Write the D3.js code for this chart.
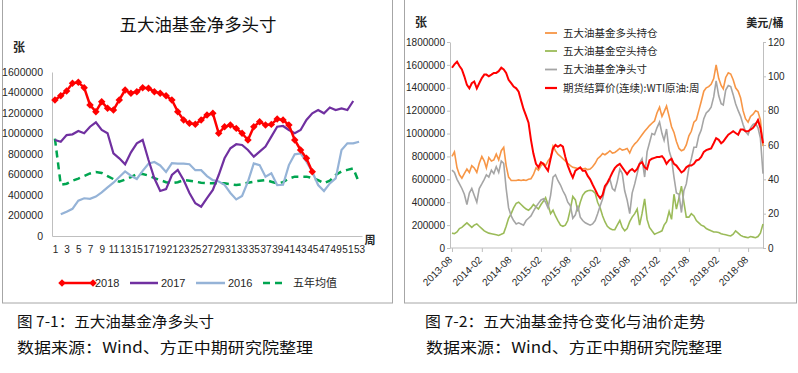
<!DOCTYPE html>
<html><head><meta charset="utf-8">
<script src="https://cdn.jsdelivr.net/npm/d3@7"></script>
<style>
html,body{margin:0;padding:0;background:#fff;}
svg{display:block;}
</style></head>
<body>
<svg id="c" width="798" height="373"></svg>
<script>
// ================= Chart 1 data (weekly) =================
const weeks = [1,2,3,4,5,6,7,8,9,10,11,12,13,14,15,16,17,18,19,20,21,22,23,24,25,26,27,28,29,30,31,32,33,34,35,36,37,38,39,40,41,42,43,44,45,46,47,48,49,50,51,52,53];
const weekTicks = [1,3,5,7,9,11,13,15,17,19,21,23,25,27,29,31,33,35,37,39,41,43,45,47,49,51,53];
const yTicks1 = [0,200000,400000,600000,800000,1000000,1200000,1400000,1600000];
const seriesNames1 = ["2018","2017","2016","五年均值"];
const v2018 = [1327000,1369000,1415000,1490000,1500000,1447000,1278000,1213000,1310000,1246000,
  1229000,1327000,1424000,1392000,1408000,1447000,1441000,1408000,1392000,1369000,
  1327000,1213000,1132000,1099000,1090000,1132000,1180000,1197000,1002000,1066000,
  1083000,1050000,1002000,937000,1066000,1115000,1083000,1089000,1141000,1132000,
  1083000,937000,839000,758000,627000];
const v2017 = [937000,920000,985000,992000,1024000,1002000,1066000,1109000,1034000,1002000,
  807000,758000,699000,816000,904000,937000,741000,563000,439000,458000,
  595000,644000,546000,420000,320000,286000,370000,449000,595000,758000,
  856000,895000,888000,839000,774000,823000,872000,969000,1066000,1073000,
  1034000,1002000,1034000,1132000,1197000,1229000,1197000,1253000,1229000,1245000,
  1229000,1317000];
const v2016 = [null,211000,237000,265000,345000,368000,362000,385000,425000,475000,
  520000,575000,630000,588000,556000,635000,705000,722000,688000,625000,
  710000,706000,706000,700000,642000,642000,585000,545000,532000,500000,
  420000,357000,390000,530000,708000,692000,578000,611000,497000,500000,
  692000,797000,806000,725000,627000,497000,439000,513000,562000,839000,
  904000,904000,920000];
const vAvg5 = [950000,500000,510000,540000,560000,585000,610000,625000,615000,585000,
  555000,530000,550000,575000,605000,605000,590000,565000,545000,525000,
  515000,525000,545000,540000,530000,520000,515000,514000,514000,514000,
  505000,497000,505000,520000,530000,540000,546000,530000,514000,525000,
  560000,579000,579000,579000,565000,546000,514000,540000,595000,630000,
  645000,660000,520000];

// ================= Chart 2 data (semi-monthly) =================
const dates2 = [
 "2013-08-01","2013-08-16","2013-09-01","2013-09-16","2013-10-01","2013-10-16","2013-11-01","2013-11-16","2013-12-01","2013-12-16",
 "2014-01-01","2014-01-16","2014-02-01","2014-02-16","2014-03-01","2014-03-16","2014-04-01","2014-04-16","2014-05-01","2014-05-16",
 "2014-06-01","2014-06-16","2014-07-01","2014-07-16","2014-08-01","2014-08-16","2014-09-01","2014-09-16","2014-10-01","2014-10-16",
 "2014-11-01","2014-11-16","2014-12-01","2014-12-16","2015-01-01","2015-01-16","2015-02-01","2015-02-16","2015-03-01","2015-03-16",
 "2015-04-01","2015-04-16","2015-05-01","2015-05-16","2015-06-01","2015-06-16","2015-07-01","2015-07-16","2015-08-01","2015-08-16",
 "2015-09-01","2015-09-16","2015-10-01","2015-10-16","2015-11-01","2015-11-16","2015-12-01","2015-12-16","2016-01-01","2016-01-16",
 "2016-02-01","2016-02-16","2016-03-01","2016-03-16","2016-04-01","2016-04-16","2016-05-01","2016-05-16","2016-06-01","2016-06-16",
 "2016-07-01","2016-07-16","2016-08-01","2016-08-16","2016-09-01","2016-09-16","2016-10-01","2016-10-16","2016-11-01","2016-11-16",
 "2016-12-01","2016-12-16","2017-01-01","2017-01-16","2017-02-01","2017-02-16","2017-03-01","2017-03-16","2017-04-01","2017-04-16",
 "2017-05-01","2017-05-16","2017-06-01","2017-06-16","2017-07-01","2017-07-16","2017-08-01","2017-08-16","2017-09-01","2017-09-16",
 "2017-10-01","2017-10-16","2017-11-01","2017-11-16","2017-12-01","2017-12-16","2018-01-01","2018-01-16","2018-02-01","2018-02-16",
 "2018-03-01","2018-03-16","2018-04-01","2018-04-16","2018-05-01","2018-05-16","2018-06-01","2018-06-16","2018-07-01","2018-07-16",
 "2018-08-01","2018-08-16","2018-09-01","2018-09-16","2018-10-01","2018-10-16","2018-11-01"];
const longPos = [800000,840000,700000,640000,610000,650000,690000,660000,720000,700000,
  660000,740000,800000,760000,700000,790000,760000,770000,820000,770000,
  850000,880000,720000,620000,590000,590000,590000,595000,590000,595000,
  590000,600000,605000,640000,700000,680000,720000,740000,720000,760000,
  790000,890000,850000,820000,800000,780000,760000,740000,720000,705000,
  700000,695000,700000,690000,695000,685000,690000,710000,740000,780000,
  800000,825000,815000,830000,850000,830000,835000,850000,870000,855000,
  860000,870000,830000,880000,910000,930000,960000,990000,1020000,1045000,
  1070000,1090000,1110000,1180000,1230000,1150000,1190000,1240000,1150000,1060000,
  1010000,930000,870000,850000,860000,900000,980000,1020000,1100000,1120000,
  1200000,1280000,1370000,1400000,1410000,1430000,1480000,1600000,1480000,1420000,
  1390000,1490000,1530000,1520000,1470000,1400000,1370000,1310000,1200000,1130000,
  1100000,1150000,1170000,1200000,1190000,1120000,890000];
const shortPos = [130000,125000,140000,170000,180000,200000,220000,200000,180000,200000,
  210000,190000,170000,150000,140000,130000,125000,120000,115000,110000,
  120000,130000,190000,260000,300000,350000,390000,400000,380000,360000,
  340000,330000,350000,380000,360000,340000,380000,410000,440000,380000,
  300000,330000,280000,240000,200000,190000,200000,240000,340000,450000,
  420000,320000,400000,460000,490000,500000,505000,500000,480000,400000,
  350000,280000,230000,190000,170000,160000,160000,200000,240000,180000,
  150000,170000,230000,270000,300000,340000,200000,300000,430000,250000,
  180000,150000,120000,130000,140000,150000,200000,230000,320000,250000,
  470000,340000,440000,540000,400000,270000,270000,300000,280000,240000,
  220000,200000,190000,170000,160000,150000,140000,140000,135000,125000,
  120000,115000,110000,105000,120000,150000,130000,110000,100000,95000,
  90000,100000,95000,90000,100000,130000,210000];
const netPos = [680000,660000,600000,560000,520000,470000,380000,480000,520000,460000,
  400000,520000,560000,600000,640000,620000,680000,650000,710000,660000,
  760000,740000,520000,350000,280000,240000,210000,220000,210000,200000,
  240000,260000,280000,320000,360000,390000,420000,430000,400000,350000,
  460000,620000,640000,590000,550000,500000,460000,400000,370000,260000,
  290000,370000,270000,240000,220000,210000,200000,210000,240000,300000,
  370000,430000,520000,560000,600000,520000,500000,580000,690000,650000,
  500000,420000,300000,480000,560000,650000,740000,780000,620000,840000,
  920000,1000000,990000,1050000,1100000,1000000,940000,1040000,850000,780000,
  620000,480000,470000,310000,500000,560000,700000,780000,880000,880000,
  980000,1030000,1130000,1180000,1200000,1230000,1320000,1460000,1330000,1260000,
  1250000,1380000,1420000,1410000,1340000,1260000,1200000,1150000,1080000,1020000,
  990000,1050000,1080000,1090000,1050000,960000,650000];
const wtiPrice = [105,107,108.5,106,104,100,95,93,96,97,
  93,96,99,101,101,100,101,102,102,103,
  105,104,102,98,96,94,93,91,86,81,
  77,73,63,55,49,47,50,49,47,45,
  52,58,60,59,60,59,53,48,44,41,
  45,46,47,45,45,42,40,37,34,31,
  29,31,36,38,41,44,46.5,48,49,47,
  45,43,45,46,44.5,46,49,50,47,46,
  51,52,52.5,53,53,53.5,52,49,51,52,
  49,48,46,44,45,47,48,48,49,51,
  51.5,53,56,57,57.5,58,61,64,63,61,
  62,64,66,67,68,67,66,69,69,68,
  68,69,70,72,74.5,70,61];
const yTicksL = [0,200000,400000,600000,800000,1000000,1200000,1400000,1600000,1800000];
const yTicksR = [0,20,40,60,80,100,120];
const xTickLabels2 = ["2013-08","2014-02","2014-08","2015-02","2015-08","2016-02","2016-08","2017-02","2017-08","2018-02","2018-08"];
const seriesNames2 = ["五大油基金多头持仓","五大油基金空头持仓","五大油基金净头寸","期货结算价(连续):WTI原油:周"];

// ================= drawing =================
const svg = d3.select("#c");
const NUM = "'Liberation Sans', Arial, sans-serif";
const CJK = "'Noto Sans CJK SC', 'Noto Sans', sans-serif";
const AXIS_C = "#BFBFBF";
const TXT_C = "#262626";

// frames
svg.append("rect").attr("x",2.5).attr("y",-3).attr("width",390).attr("height",306)
  .attr("fill","none").attr("stroke","#A6A6A6");
svg.append("rect").attr("x",404.5).attr("y",-3).attr("width",392).attr("height",306)
  .attr("fill","none").attr("stroke","#A6A6A6");

// ---------- chart 1 ----------
const g1 = svg.append("g");
const x1 = d3.scalePoint().domain(weeks).range([52,362]).padding(0.5);
const y1 = d3.scaleLinear().domain([0,1600000]).range([236,72]);

g1.append("text").attr("x",198).attr("y",25).attr("dy","0.35em").attr("text-anchor","middle")
  .attr("font-family",CJK).attr("font-size",17).attr("fill","#111")
  .attr("textLength",157).attr("lengthAdjust","spacingAndGlyphs").text("五大油基金净多头寸");
g1.append("text").attr("x",19).attr("y",48).attr("dy","0.35em").attr("text-anchor","middle")
  .attr("font-family",CJK).attr("font-weight","bold").attr("font-size",12).attr("fill",TXT_C).text("张");
g1.append("text").attr("x",370).attr("y",240).attr("dy","0.35em").attr("text-anchor","middle")
  .attr("font-family",CJK).attr("font-weight","bold").attr("font-size",11).attr("fill",TXT_C).text("周");

const ax1y = g1.append("g").attr("transform","translate(52,0)")
  .call(d3.axisLeft(y1).tickValues(yTicks1).tickSize(0).tickPadding(9).tickFormat(d3.format("d")));
const ax1x = g1.append("g").attr("transform","translate(0,236)")
  .call(d3.axisBottom(x1).tickValues(weekTicks).tickSize(0).tickPadding(10));
[ax1y, ax1x].forEach(a=>{
  a.select(".domain").attr("stroke",AXIS_C);
  a.selectAll("text").attr("font-family",NUM).attr("font-size",10.5).attr("fill",TXT_C);
});
ax1x.selectAll("text").attr("font-size",10);

const line1 = d3.line().defined(d=>d!=null).x((d,i)=>x1(weeks[i])).y(d=>y1(d));
g1.append("path").datum(vAvg5).attr("d",line1).attr("fill","none")
  .attr("stroke","#00A550").attr("stroke-width",2.5).attr("stroke-dasharray","7,5");
g1.append("path").datum(v2016).attr("d",line1).attr("fill","none")
  .attr("stroke","#95B3D7").attr("stroke-width",2.2);
g1.append("path").datum(v2017).attr("d",line1).attr("fill","none")
  .attr("stroke","#7030A0").attr("stroke-width",2.2);
g1.append("path").datum(v2018).attr("d",line1).attr("fill","none")
  .attr("stroke","#FF0000").attr("stroke-width",2.5);
const sq = d3.symbol().type(d3.symbolSquare).size(28);
g1.selectAll(".mk").data(v2018).join("path").attr("class","mk")
  .attr("d",sq).attr("transform",(d,i)=>`translate(${x1(weeks[i])},${y1(d)}) rotate(45)`)
  .attr("fill","#FF0000");

// legend chart 1
const lg1 = g1.append("g").attr("font-family",NUM).attr("font-size",11).attr("fill",TXT_C);
const leg1 = [
  {name:seriesNames1[0], x0:62, x1:93, tx:95, color:"#FF0000", w:2.5, dash:null, mk:true},
  {name:seriesNames1[1], x0:130, x1:158, tx:161, color:"#7030A0", w:2.5, dash:null},
  {name:seriesNames1[2], x0:196, x1:225, tx:228, color:"#95B3D7", w:2.5, dash:null},
  {name:seriesNames1[3], x0:263, x1:285, tx:293, color:"#00A550", w:2.5, dash:"7,5"}
];
leg1.forEach(l=>{
  lg1.append("line").attr("x1",l.x0).attr("x2",l.x1).attr("y1",283).attr("y2",283)
    .attr("stroke",l.color).attr("stroke-width",l.w).attr("stroke-dasharray",l.dash);
  if(l.mk){
    [l.x0,l.x1].forEach(xx=>lg1.append("path").attr("d",sq)
      .attr("transform",`translate(${xx},283) rotate(45)`).attr("fill",l.color));
  }
  lg1.append("text").attr("x",l.tx).attr("y",283).attr("dy","0.35em")
    .attr("font-family", /[\u4e00-\u9fff]/.test(l.name)?CJK:NUM).text(l.name);
});

// ---------- chart 2 ----------
const g2 = svg.append("g");
const parseD = d3.utcParse("%Y-%m-%d");
const parseM = d3.utcParse("%Y-%m");
const dts = dates2.map(parseD);
const x2 = d3.scaleUtc().domain([parseD("2013-08-01"), parseD("2018-11-01")]).range([452,763]);
const yL = d3.scaleLinear().domain([0,1800000]).range([248,42]);
const yR = d3.scaleLinear().domain([0,120]).range([248,42]);

g2.append("text").attr("x",421).attr("y",23).attr("dy","0.35em").attr("text-anchor","middle")
  .attr("font-family",CJK).attr("font-weight","bold").attr("font-size",12).attr("fill",TXT_C).text("张");
g2.append("text").attr("x",765).attr("y",23).attr("dy","0.35em").attr("text-anchor","middle")
  .attr("font-family",CJK).attr("font-weight","bold").attr("font-size",11).attr("fill",TXT_C).text("美元/桶");

const axL = g2.append("g").attr("transform","translate(450,0)")
  .call(d3.axisLeft(yL).tickValues(yTicksL).tickSizeInner(3).tickSizeOuter(0).tickPadding(2).tickFormat(d3.format("d")));
const axR = g2.append("g").attr("transform","translate(763,0)")
  .call(d3.axisRight(yR).tickValues(yTicksR).tickSizeInner(3).tickSizeOuter(0).tickPadding(2));
const axB = g2.append("g").attr("transform","translate(0,248)")
  .call(d3.axisBottom(x2).tickValues(xTickLabels2.map(parseM)).tickSizeInner(4).tickSizeOuter(0)
    .tickFormat(d3.utcFormat("%Y-%m")));
axB.select(".domain").attr("d","M450,0H763");
[axL, axR, axB].forEach(a=>{
  a.select(".domain").attr("stroke",AXIS_C);
  a.selectAll(".tick line").attr("stroke",AXIS_C);
  a.selectAll("text").attr("font-family",NUM).attr("font-size",10).attr("fill",TXT_C);
});
axB.selectAll("text").attr("y",0).attr("x",0).attr("dy","0.35em")
  .attr("transform","translate(-2,10) rotate(-45)").style("text-anchor","end");

const line2 = (ys)=>d3.line().x((d,i)=>x2(dts[i])).y(d=>ys(d));
g2.append("path").datum(longPos).attr("d",line2(yL)).attr("fill","none").attr("stroke","#F79646").attr("stroke-width",1.6);
g2.append("path").datum(shortPos).attr("d",line2(yL)).attr("fill","none").attr("stroke","#9BBB59").attr("stroke-width",1.6);
g2.append("path").datum(netPos).attr("d",line2(yL)).attr("fill","none").attr("stroke","#A5A5A5").attr("stroke-width",1.6);
g2.append("path").datum(wtiPrice).attr("d",line2(yR)).attr("fill","none").attr("stroke","#FF0000").attr("stroke-width",2);

// legend chart 2
const leg2c = ["#F79646","#9BBB59","#A5A5A5","#FF0000"];
const leg2y = [33,51,69.5,88];
seriesNames2.forEach((n,i)=>{
  g2.append("line").attr("x1",545).attr("x2",557).attr("y1",leg2y[i]).attr("y2",leg2y[i])
    .attr("stroke",leg2c[i]).attr("stroke-width",i===3?2.2:1.8);
  g2.append("text").attr("x",563).attr("y",leg2y[i]).attr("dy","0.35em")
    .attr("font-family",CJK).attr("font-size",10.5).attr("fill",TXT_C).text(n);
});

// ---------- captions ----------
const cap = [
  {t:"图 7-1：五大油基金净多头寸", x:17, y:322, w:197},
  {t:"数据来源：Wind、方正中期研究院整理", x:17, y:348, w:296},
  {t:"图 7-2：五大油基金持仓变化与油价走势", x:425, y:322, w:280},
  {t:"数据来源：Wind、方正中期研究院整理", x:426, y:348, w:296}
];
cap.forEach(c=>{
  svg.append("text").attr("x",c.x).attr("y",c.y).attr("dy","0.36em")
    .attr("font-family",CJK).attr("font-size",15).attr("fill","#111")
    .attr("textLength",c.w).attr("lengthAdjust","spacingAndGlyphs").text(c.t);
});
</script>
</body></html>
